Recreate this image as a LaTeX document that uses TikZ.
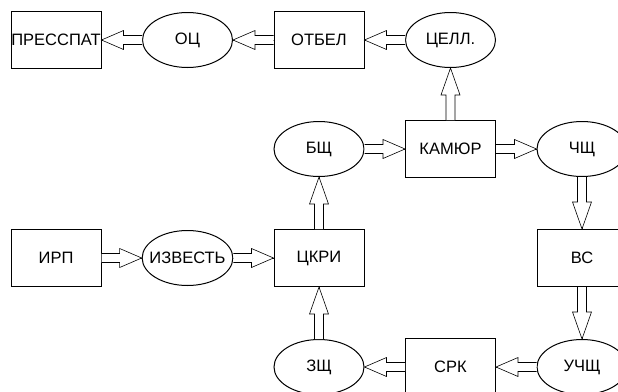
\documentclass[tikz,border=0pt]{standalone}
\usepackage{fontspec}
\setmainfont{Liberation Sans}
\usetikzlibrary{shapes.geometric,decorations.markings}

\tikzset{
  box/.style={draw,rectangle,line width=1pt,minimum width=90pt,minimum height=57pt,inner sep=0pt},
  oval/.style={draw,ellipse,line width=1pt,minimum width=90pt,minimum height=55pt,inner xsep=-6pt,inner ysep=0pt},
  flow/.style={decoration={markings,mark=at position 1 with {
      \draw[line width=0.6pt,fill=white] (-\pgfdecoratedpathlength,4.5pt) -- (-#1,4.5pt) -- (-#1,9.5pt) -- (0,0)
        -- (-#1,-9.5pt) -- (-#1,-4.5pt) -- (-\pgfdecoratedpathlength,-4.5pt);}},
    postaction={decorate}},
  flow/.default=22pt
}

\begin{document}
\begin{tikzpicture}[node distance=131.5pt,every node/.style={font=\fontsize{16.5}{19}\selectfont}]
\useasboundingbox (0,0) rectangle (618pt,-391pt);
\clip (0,0) rectangle (618pt,-391pt);
\node[box] (presspat) at (56pt,-40pt) {ПРЕССПАТ};
\node[oval] (oc) [right of=presspat] {ОЦ};
\node[box] (otbel) [right of=oc] {ОТБЕЛ};
\node[oval] (cell) [right of=otbel] {ЦЕЛЛ.};
\node[box] (kamyur) [below of=cell,node distance=109pt] {КАМЮР};
\node[oval] (bsh) [left of=kamyur] {БЩ};
\node[oval] (chsh) [right of=kamyur] {ЧЩ};
\node[box] (ckri) [below of=bsh,node distance=109pt] {ЦКРИ};
\node[oval] (izvest) [left of=ckri] {ИЗВЕСТЬ};
\node[box] (irp) [left of=izvest] {ИРП};
\node[box] (vs) [below of=chsh,node distance=109pt] {ВС};
\node[oval] (uchsh) [below of=vs,node distance=109pt] {УЧЩ};
\node[box] (srk) [left of=uchsh] {СРК};
\node[oval] (zsh) [left of=srk] {ЗЩ};
\path (oc) edge[flow] (presspat)
      (otbel) edge[flow] (oc)
      (cell) edge[flow] (otbel)
      (kamyur) edge[flow=27pt] (cell)
      (bsh) edge[flow] (kamyur)
      (kamyur) edge[flow] (chsh)
      (ckri) edge[flow=27pt] (bsh)
      (irp) edge[flow] (izvest)
      (izvest) edge[flow] (ckri)
      (chsh) edge[flow=27pt] (vs)
      (vs) edge[flow=27pt] (uchsh)
      (uchsh) edge[flow] (srk)
      (srk) edge[flow] (zsh)
      (zsh) edge[flow=27pt] (ckri)
;
\end{tikzpicture}
\end{document}
